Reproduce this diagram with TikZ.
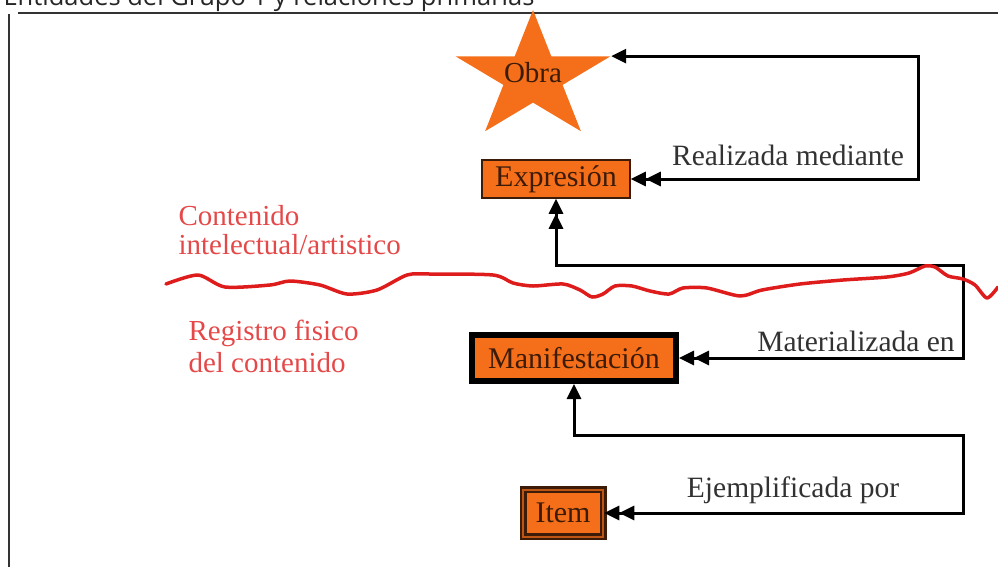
\documentclass[tikz,border=0pt]{standalone}
\usepackage{fontspec}
\setmainfont{Liberation Serif}
\newfontfamily\titlefont{Open Sans}
\usetikzlibrary{arrows.meta,shapes.geometric}
\definecolor{naranja}{RGB}{245,110,25}
\definecolor{marron}{RGB}{60,28,8}
\definecolor{rojo}{RGB}{222,28,28}
\definecolor{rotulo}{RGB}{228,72,72}
\definecolor{gris}{RGB}{50,50,50}

\begin{document}
\begin{tikzpicture}[x=1pt, y=-1pt,
    punta/.tip={Triangle[length=15pt,width=14pt]},
    entidad/.style={draw=marron, fill=naranja, line width=1.5pt, inner sep=0pt,
      text=marron, font=\fontsize{30}{30}\selectfont},
    enlace/.style={line width=3pt, draw=black},
    rotulo/.style={text=gris, font=\fontsize{29.5}{30}\selectfont},
    zona/.style={text=rotulo, align=left, anchor=west}]
\useasboundingbox (0,0) rectangle (998,574);

\node[anchor=base west, text=black!85, font=\titlefont\fontsize{25.5}{25.5}\selectfont] (titulo) at (0,5) {Entidades del Grupo 1 y relaciones primarias};
\draw[line width=1.5pt, black!80] (18,13) -- (998,13);
\draw[line width=1.5pt, black!80] (9,14) -- (9,567);

\node[star, star points=5, star point ratio=2.618, minimum size=134pt, inner sep=0pt,
  fill=naranja, xscale=1.216] (obra) at (533,77) {};
\node[text=marron, font=\fontsize{29}{29}\selectfont] (obratxt) at (533,73) {Obra};
\node[entidad, minimum width=148pt, minimum height=38pt] (expr) at (556,179) {Expresión};
\node[entidad, draw=black, line width=6pt, minimum width=204pt, minimum height=46pt] (manif) at (574,358) {Manifestación};
\node[entidad, double=naranja!70!marron, double distance=2pt, line width=2.5pt,
  minimum width=80pt, minimum height=47pt] (item) at (563,513) {Item};

\node[rotulo] (realiz) at (788,155) {Realizada mediante};
\node[rotulo] (mater) at (856,341) {Materializada en};
\node[rotulo] (ejem) at (793,490) {Ejemplificada por};

\node[zona, font=\fontsize{29}{29}\selectfont] (cont) at (175,230) {Contenido\\intelectual/artistico};
\node[zona, font=\fontsize{29}{32}\selectfont] (regis) at (185,346) {Registro fisico\\del contenido};

\coordinate (c1) at (918,179);
\coordinate (c2) at (963,265);
\coordinate (c3) at (963,435);

\draw[enlace, {punta[]}-{punta[]punta[]}] (obra.outer point 5) -| (c1) -- (expr.east);
\draw[enlace, {punta[]punta[]}-{punta[]punta[]}] (expr.south) |- (c2) |- (manif.east);
\draw[enlace, {punta[]}-{punta[]punta[]}] (manif.south) |- (c3) |- (item.east);

\draw[rojo, line width=3.5pt, line join=round, line cap=round] plot[smooth, tension=0.45] coordinates {
  (166,284) (198,275) (225,287) (270,285) (290,281) (320,285) (347,294)
  (377,290) (407,275) (430,274) (493,275) (513,283) (533,286) (563,284) (580,290)
  (592,297) (603,294) (615,286) (632,286) (650,291) (669,294) (683,288) (707,288)
  (740,296) (762,290) (800,284) (843,280) (887,277) (909,273) (925,266) (935,267)
  (948,276) (963,279) (975,285) (987,298) (998,287)};
\end{tikzpicture}
\end{document}
